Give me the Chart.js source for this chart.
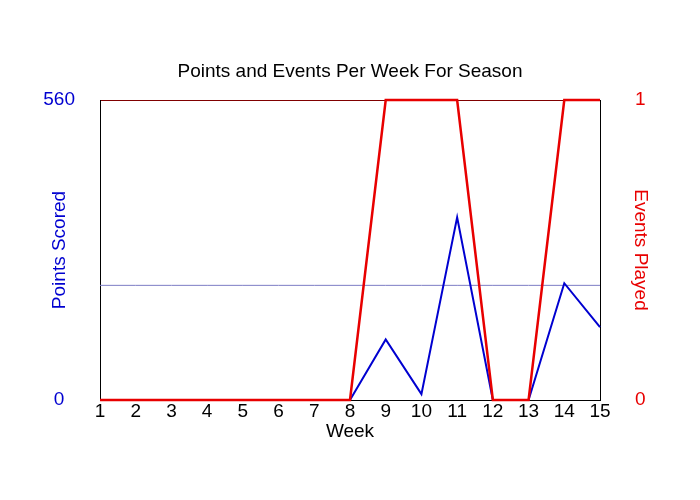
<!DOCTYPE html>
<html>
<head>
<meta charset="utf-8">
<script src="https://cdn.jsdelivr.net/npm/chart.js@4"></script>
<style>
  html, body { margin: 0; padding: 0; background: #ffffff; }
  #wrap { width: 700px; height: 500px; }
</style>
</head>
<body>
<div id="wrap"><canvas id="c" width="700" height="500"></canvas></div>
<script>
// ---- data ----
const weeks = ['1','2','3','4','5','6','7','8','9','10','11','12','13','14','15'];
const pointsScored = [0, 0, 0, 0, 0, 0, 0, 0, 113, 11, 341, 0, 0, 218, 136];
const eventsPlayed = [0, 0, 0, 0, 0, 0, 0, 0, 1, 1, 1, 0, 0, 1, 1];
const referenceLevel = 214;
const referenceLine = weeks.map(() => referenceLevel);
const pointsTicks = [0, 560];
const eventsTicks = [0, 1];

const FONT = "'Liberation Sans', Arial, Helvetica, sans-serif";
const BLUE = '#0000d0';
const RED = '#e80000';

new Chart(document.getElementById('c'), {
  type: 'line',
  data: {
    labels: weeks,
    datasets: [
      {
        label: 'Events Played',
        data: eventsPlayed,
        yAxisID: 'y1',
        borderColor: RED,
        borderWidth: 2.5,
        pointRadius: 0,
        tension: 0,
        clip: false,
        order: 0
      },
      {
        label: 'Points Scored',
        data: pointsScored,
        yAxisID: 'y',
        borderColor: BLUE,
        borderWidth: 2,
        pointRadius: 0,
        tension: 0,
        clip: false,
        order: 1
      },
      {
        label: 'Reference',
        data: referenceLine,
        yAxisID: 'y',
        borderColor: '#7c7cc4',
        borderWidth: 1,
        pointRadius: 0,
        tension: 0,
        order: 2
      }
    ]
  },
  options: {
    responsive: false,
    animation: false,
    devicePixelRatio: 1,
    layout: { padding: 0 },
    plugins: {
      legend: { display: false },
      tooltip: { enabled: false },
      title: {
        display: true,
        text: 'Points and Events Per Week For Season',
        color: '#000000',
        font: { family: FONT, size: 19, weight: 'normal' },
        padding: { top: 60, bottom: 17.2 }
      }
    },
    scales: {
      x: {
        type: 'category',
        offset: false,
        grid: { display: false, drawTicks: false },
        border: { display: true, color: '#000000', width: 1 },
        ticks: {
          color: '#000000',
          font: { family: FONT, size: 19 },
          padding: 0,
          maxRotation: 0,
          autoSkip: false
        },
        title: {
          display: true,
          text: 'Week',
          color: '#000000',
          font: { family: FONT, size: 19 },
          padding: { top: 4, bottom: 57.3 }
        },
        afterFit: (s) => { s.height = 100; }
      },
      y: {
        position: 'left',
        min: 0,
        max: 560,
        afterBuildTicks: (s) => { s.ticks = pointsTicks.map(v => ({ value: v })); },
        grid: { display: false, drawTicks: false },
        border: { display: true, color: '#000000', width: 1 },
        ticks: {
          color: BLUE,
          font: { family: FONT, size: 19 },
          crossAlign: 'center',
          padding: 25
        },
        title: {
          display: true,
          text: 'Points Scored',
          color: BLUE,
          font: { family: FONT, size: 19 },
          padding: { top: 48, bottom: 4 }
        },
        afterFit: (s) => { s.width = 100; }
      },
      y1: {
        position: 'right',
        min: 0,
        max: 1,
        afterBuildTicks: (s) => { s.ticks = eventsTicks.map(v => ({ value: v })); },
        grid: {
          display: true,
          drawTicks: false,
          drawOnChartArea: true,
          lineWidth: 1,
          color: (ctx) => (ctx.tick && ctx.tick.value === 1 ? '#800000' : 'rgba(0,0,0,0)')
        },
        border: { display: true, color: '#000000', width: 1 },
        ticks: {
          color: RED,
          font: { family: FONT, size: 19 },
          crossAlign: 'center',
          padding: 35
        },
        title: {
          display: true,
          text: 'Events Played',
          color: RED,
          font: { family: FONT, size: 19 },
          padding: { top: 48, bottom: 4 }
        },
        afterFit: (s) => { s.width = 100; }
      }
    }
  }
});
</script>
</body>
</html>
